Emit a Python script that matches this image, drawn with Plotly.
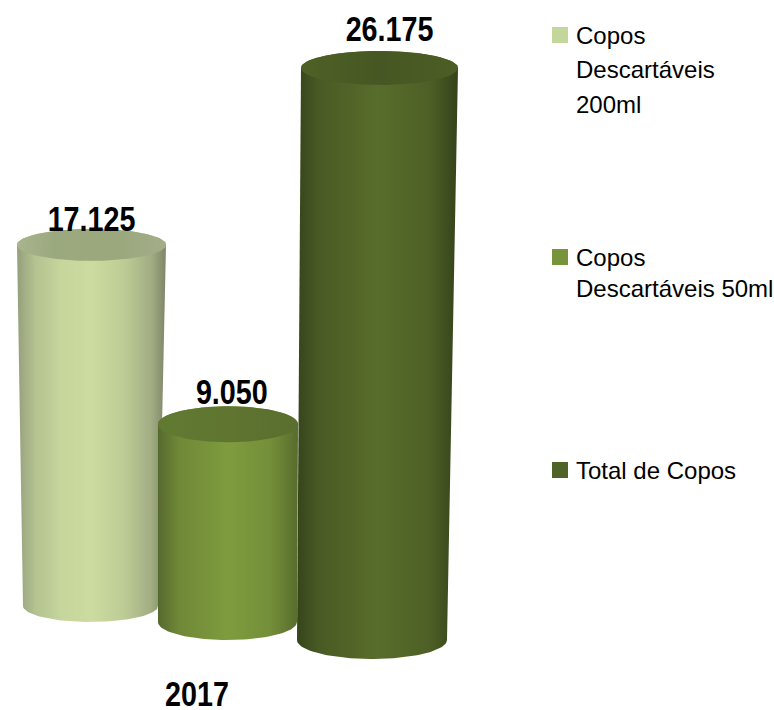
import numpy as np
import plotly.graph_objects as go

# ---- data ----
SERIES = ["Copos Descartáveis 200ml", "Copos Descartáveis 50ml", "Total de Copos"]
VALUES = [17125, 9050, 26175]
VALUE_LABELS = ["17.125", "9.050", "26.175"]
CATEGORY = ["2017"]
LEGEND_LINES = [["Copos", "Descartáveis", "200ml"], ["Copos", "Descartáveis 50ml"], ["Total de Copos"]]

# ---- colours ----
SWATCH = ["#c3d69b", "#77933c", "#4f6228"]
BODY = [
    [(0, "#959f7c"), (0.12, "#b3c290"), (0.3, "#c6d69c"), (0.5, "#ccdc9f"), (0.72, "#bdcc95"), (0.9, "#a2ad83"), (1, "#7f8568")],
    [(0, "#56692e"), (0.15, "#6f8838"), (0.5, "#7f9c3d"), (0.8, "#748f39"), (1, "#586c2d")],
    [(0, "#36451b"), (0.14, "#4a5a24"), (0.5, "#586d2b"), (0.82, "#4e6026"), (1, "#34431a")],
]
CAP = [
    [(0, "#a9b58d"), (0.25, "#9ba97f"), (0.7, "#9ba87e"), (1, "#a3ae88")],
    [(0, "#617a32"), (0.5, "#5f7530"), (1, "#5a6e2e")],
    [(0, "#4f6126"), (0.5, "#465723"), (1, "#4c5d25")],
]

# ---- perspective geometry (screen-like axis units) ----
W, H, MB = 774, 710, 40
PX = 45.76                      # value units per vertical pixel
BASE_PX = [606, 622, 640]       # centre of each cylinder's base
DEPTH = [0.965, 1.0, 1.0]
TOP_X = [(17, 166), (158, 298), (301, 458)]
BOT_X = [(23, 158), (158, 297), (297, 447)]
TOP_RY = [16, 18, 17]
BOT_RY = [16, 18, 19]
LABEL_SHIFT = [26, 33, 39]
LABEL_DX = [0, 4, 10]
CATEGORY_X = 197
LEGEND_MARK_X = 560
LEGEND_TEXT_X = 574
LEGEND_Y = [[35, 69, 104], [257, 288], [470]]
BOLD = dict(family="Liberation Sans", size=35, color="black", weight="bold")

to_v = lambda px: (640 - px) * PX

fig = go.Figure()
theta = np.linspace(0, np.pi, 60)
for i, val in enumerate(VALUES):
    base = to_v(BASE_PX[i])
    top = base + val * DEPTH[i]
    (tl, tr), (bl, br) = TOP_X[i], BOT_X[i]
    tc, ta = (tl + tr) / 2, (tr - tl) / 2
    bc, ba = (bl + br) / 2, (br - bl) / 2
    # silhouette: upper arc of the top, lower arc of the base
    xs = np.r_[tc - ta * np.cos(theta), bc + ba * np.cos(theta)]
    ys = np.r_[top + TOP_RY[i] * PX * np.sin(theta), base - BOT_RY[i] * PX * np.sin(theta)]
    fig.add_trace(go.Scatter(
        x=xs, y=ys, mode="lines", line=dict(width=0), fill="toself", showlegend=False, hoverinfo="skip",
        fillgradient=dict(type="horizontal", colorscale=BODY[i], start=min(tl, bl), stop=max(tr, br)),
    ))
    t2 = np.linspace(0, 2 * np.pi, 120)
    fig.add_trace(go.Scatter(
        x=tc + ta * np.cos(t2), y=top + TOP_RY[i] * PX * np.sin(t2),
        mode="lines", line=dict(width=0), fill="toself", showlegend=False, hoverinfo="skip",
        fillgradient=dict(type="horizontal", colorscale=CAP[i], start=tl, stop=tr),
    ))
    fig.add_annotation(
        x=tc + LABEL_DX[i], y=top, yshift=LABEL_SHIFT[i], text=VALUE_LABELS[i], showarrow=False, font=BOLD,
    )
    fig.add_trace(go.Scatter(
        x=[LEGEND_MARK_X], y=[to_v(LEGEND_Y[i][0])], mode="markers", name=SERIES[i], showlegend=False,
        hoverinfo="skip", marker=dict(symbol="square", size=16, color=SWATCH[i], line=dict(width=0)),
    ))
    for line, ly in zip(LEGEND_LINES[i], LEGEND_Y[i]):
        fig.add_annotation(
            x=LEGEND_TEXT_X, y=to_v(ly), text=line, showarrow=False, xanchor="left",
            font=dict(family="Liberation Sans", size=24, color="black"),
        )

fig.update_layout(
    width=W, height=H, margin=dict(l=0, r=0, t=0, b=MB),
    paper_bgcolor="white", plot_bgcolor="white", showlegend=False,
    xaxis=dict(range=[0, W], showgrid=False, zeroline=False, showline=False, ticks="", automargin=False,
               tickmode="array", tickvals=[CATEGORY_X], ticktext=CATEGORY, tickfont=BOLD),
    yaxis=dict(range=[to_v(H - MB), to_v(0)], visible=False, automargin=False),
)
# page without default body margin; bold labels condensed like the reference's narrow face
POST = """
document.body.style.margin='0';
document.body.style.overflow='hidden';
document.querySelectorAll('svg text').forEach(function(t){
  var w=t.style.fontWeight||t.getAttribute('font-weight');
  if(w==='700'||w==='bold'){
    var n=t.getComputedTextLength();
    t.setAttribute('textLength',n*0.82);
    t.setAttribute('lengthAdjust','spacingAndGlyphs');
  }
});
"""
fig.write_html("out.html", post_script=POST, config=dict(displayModeBar=False))
